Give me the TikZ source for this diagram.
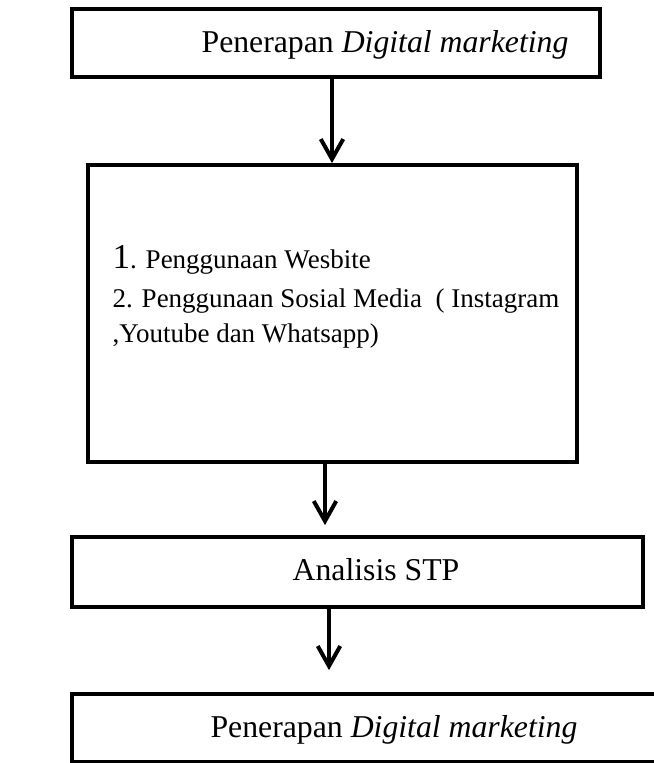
\documentclass[tikz,border=0pt]{standalone}
\usepackage{fontspec}
\setmainfont{Liberation Serif}
\usetikzlibrary{arrows.meta,positioning}

\begin{document}
\begin{tikzpicture}[x=0.4pt,y=-0.4pt,
    kotak/.style={draw, line width=1.5pt, rectangle, inner sep=0pt},
    panah/.style={-{Straight Barb[length=8pt,width=9pt]}, line width=1.6pt},
    judul/.style={font=\fontsize{12.7}{15}\selectfont, inner sep=0pt, anchor=base},
    isi/.style={font=\fontsize{10.8}{13}\selectfont, inner sep=0pt, anchor=base west}]

  \clip (0,0) rectangle (654,763);

  % kotak
  \node[kotak, minimum width=211.2pt, minimum height=27.2pt] (atas) at (336,43) {};
  \node[kotak, minimum width=195.6pt, minimum height=118.8pt] (tengah) at (332.5,313.5) {};
  \node[kotak, minimum width=228.4pt, minimum height=28pt] (stp) at (357.5,572) {};
  \node[kotak, minimum width=243.2pt, minimum height=27.2pt] (bawah) at (376,728) {};

  % teks
  \node[judul] (t1) at (385,52) {Penerapan \textit{Digital marketing}};
  \node[isi] (b1) at (112,268) {{\fontsize{14}{16}\selectfont 1}. Penggunaan Wesbite};
  \node[isi] (b2) at (112,307) {2. Penggunaan Sosial Media\ \ ( Instagram};
  \node[isi] (b3) at (112,342) {,Youtube dan Whatsapp)};
  \node[judul] (t2) at (376,580) {Analisis STP};
  \node[judul] (t3) at (394,737) {Penerapan \textit{Digital marketing}};

  % panah
  \coordinate (p1) at (332,0);
  \coordinate (p2) at (325,0);
  \coordinate (p3) at (329,0);
  \draw[panah] (atas.south -| p1) -- (tengah.north -| p1);
  \draw[panah, shorten >=4pt] (tengah.south -| p2) -- (stp.north -| p2);
  \draw[panah, shorten >=8.8pt] (stp.south -| p3) -- (bawah.north -| p3);
\end{tikzpicture}
\end{document}
